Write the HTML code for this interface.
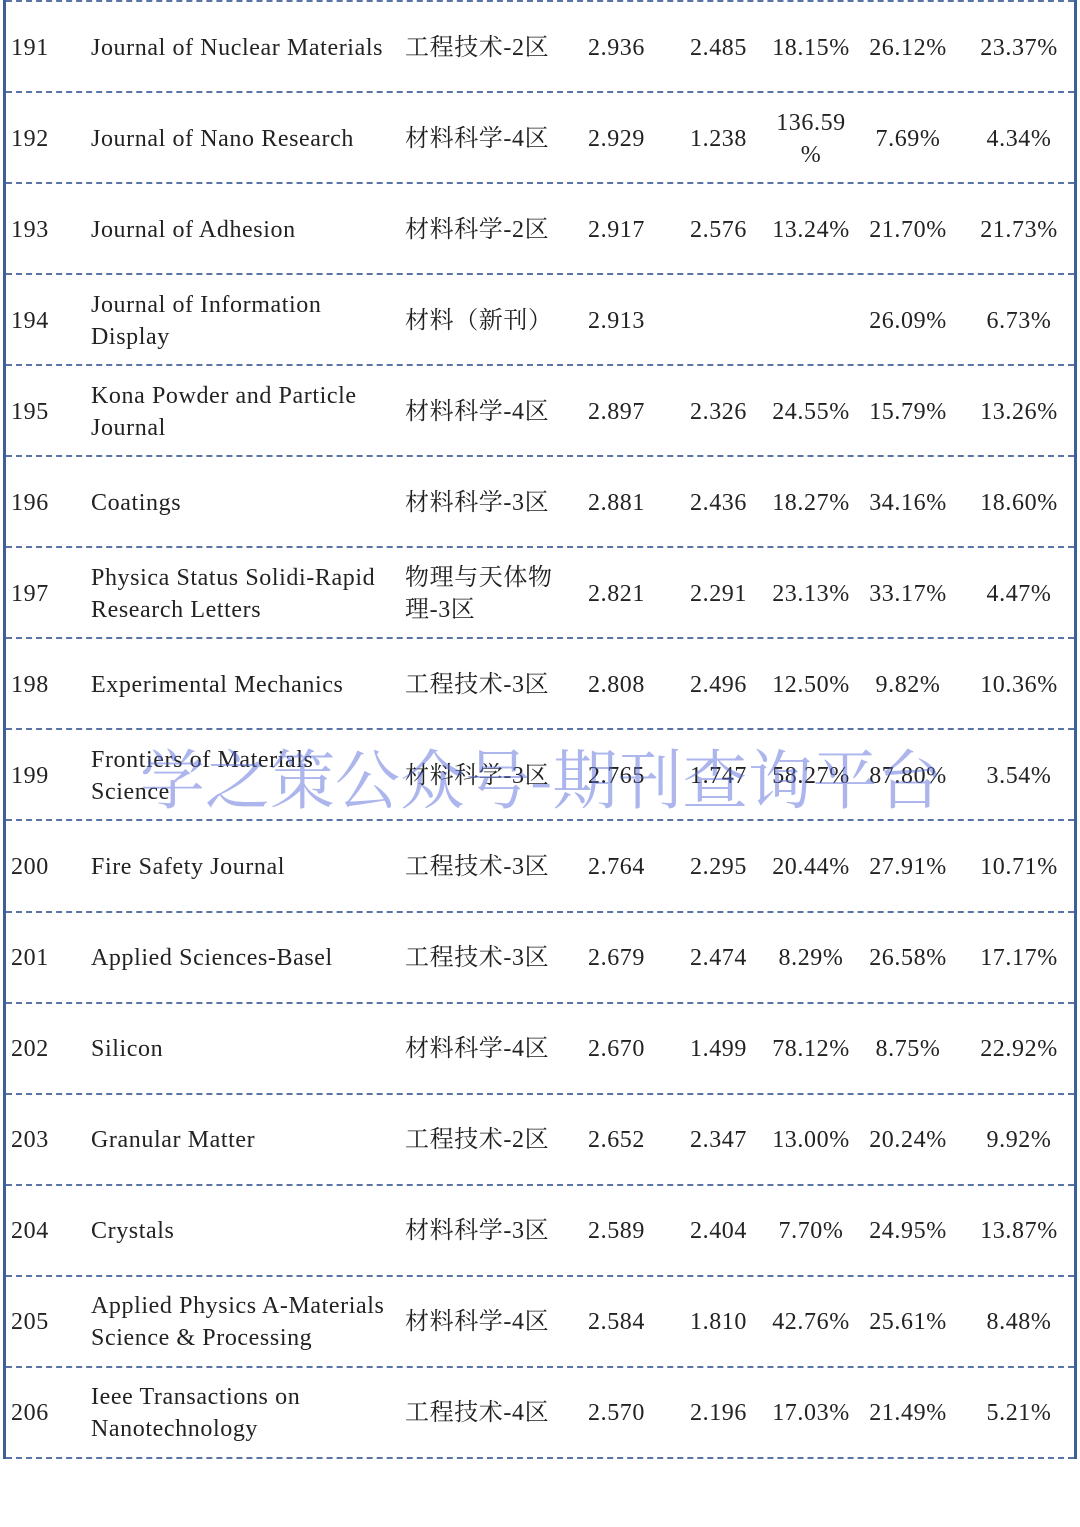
<!DOCTYPE html>
<html><head><meta charset="utf-8">
<style>
body{margin:0;width:1080px;height:1527px;background:#fff;position:relative;overflow:hidden;font-family:"Liberation Serif","Noto Serif CJK SC",serif;color:#222;font-size:24px;letter-spacing:0.6px}
.vb{position:absolute;top:0;height:1459px;width:3px;background:#3f5f98}
.hl{position:absolute;left:6px;width:1068px;height:0;border-top:2px dashed #5a74a8}
.c{position:absolute;line-height:32px;white-space:nowrap}
.wm{position:absolute;left:140px;top:728px;font-size:65px;letter-spacing:0;color:rgba(90,110,220,0.5);font-family:"Noto Serif CJK SC","Liberation Serif",serif;white-space:nowrap}
</style></head><body>
<div class="vb" style="left:3px"></div>
<div class="vb" style="left:1074px"></div>
<div id="t"></div>
<div class="wm">学之策公众号-期刊查询平台</div>
<script>
const ids=[191,192,193,194,195,196,197,198,199,200,201,202,203,204,205,206];
const names=[["Journal of Nuclear Materials"],["Journal of Nano Research"],["Journal of Adhesion"],["Journal of Information","Display"],["Kona Powder and Particle","Journal"],["Coatings"],["Physica Status Solidi-Rapid","Research Letters"],["Experimental Mechanics"],["Frontiers of Materials","Science"],["Fire Safety Journal"],["Applied Sciences-Basel"],["Silicon"],["Granular Matter"],["Crystals"],["Applied Physics A-Materials","Science & Processing"],["Ieee Transactions on","Nanotechnology"]];
const cats=[["工程技术-2区"],["材料科学-4区"],["材料科学-2区"],["材料（新刊）"],["材料科学-4区"],["材料科学-3区"],["物理与天体物","理-3区"],["工程技术-3区"],["材料科学-3区"],["工程技术-3区"],["工程技术-3区"],["材料科学-4区"],["工程技术-2区"],["材料科学-3区"],["材料科学-4区"],["工程技术-4区"]];
const ifs=["2.936","2.929","2.917","2.913","2.897","2.881","2.821","2.808","2.765","2.764","2.679","2.670","2.652","2.589","2.584","2.570"];
const if5=["2.485","1.238","2.576","","2.326","2.436","2.291","2.496","1.747","2.295","2.474","1.499","2.347","2.404","1.810","2.196"];
const p1=[["18.15%"],["136.59","%"],["13.24%"],[""],["24.55%"],["18.27%"],["23.13%"],["12.50%"],["58.27%"],["20.44%"],["8.29%"],["78.12%"],["13.00%"],["7.70%"],["42.76%"],["17.03%"]];
const p2=["26.12%","7.69%","21.70%","26.09%","15.79%","34.16%","33.17%","9.82%","87.80%","27.91%","26.58%","8.75%","20.24%","24.95%","25.61%","21.49%"];
const p3=["23.37%","4.34%","21.73%","6.73%","13.26%","18.60%","4.47%","10.36%","3.54%","10.71%","17.17%","22.92%","9.92%","13.87%","8.48%","5.21%"];
const t=document.getElementById('t');
const RH=91.05;
function cell(x,yc,lines,align,name){
  const d=document.createElement('div');
  d.className='c';
  
  
  d.innerHTML=lines.join('<br>');
  d.style.top=(yc-lines.length*16)+'px';
  if(align==='c'){d.style.left=(x-60)+'px';d.style.width='120px';d.style.textAlign='center';}
  else d.style.left=x+'px';
  t.appendChild(d);
}
function hline(y){
  const l=document.createElement('div');
  l.className='hl';
  
  
  l.style.top=y+'px';
  t.appendChild(l);
}
hline(0);
ids.forEach((id,i)=>{
  const top=i*RH;
  const yc=top+47.5;
  cell(11,yc,[String(id)],'l','rank');
  cell(91,yc,names[i],'l','journal-name');
  cell(405,yc,cats[i],'l','category');
  cell(588,yc,[ifs[i]],'l','impact-factor');
  cell(690,yc,[if5[i]],'l','impact-factor-5yr');
  cell(811,yc,p1[i],'c','percent-1');
  cell(908,yc,[p2[i]],'c','percent-2');
  cell(1019,yc,[p3[i]],'c','percent-3');
  hline(top+RH);
});
</script>
</body></html>
